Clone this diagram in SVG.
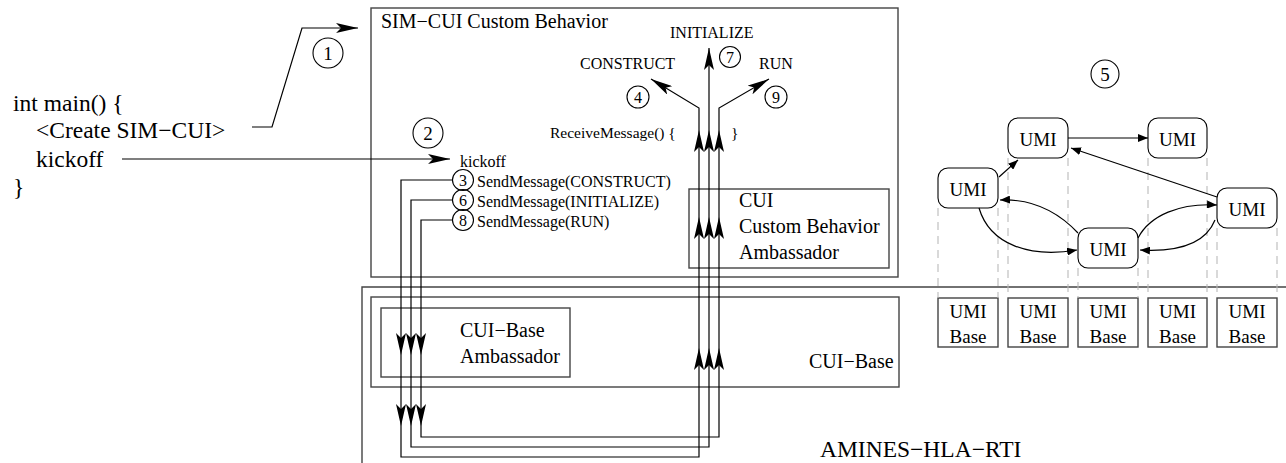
<svg xmlns="http://www.w3.org/2000/svg" width="1286" height="463" viewBox="0 0 1286 463">
<defs>
<style>
text{font-family:"Liberation Serif","Times New Roman",serif;fill:#000}
.box{fill:none;stroke:#444;stroke-width:1.4}
.ln{fill:none;stroke:#000;stroke-width:1.2}
.cir{fill:none;stroke:#000;stroke-width:1.1}
.umi{fill:#fff;stroke:#000;stroke-width:1.1}
.dash{fill:none;stroke:#bbb;stroke-width:1.1;stroke-dasharray:8,6}
.t24{font-size:23.5px}
.t20{font-size:20px}
.t16{font-size:16px}
.t19{font-size:19px}
.mid{text-anchor:middle}
</style>
<marker id="ah" viewBox="0 0 22 10" refX="22" refY="5" markerWidth="22" markerHeight="10" markerUnits="userSpaceOnUse" orient="auto">
<path d="M0,0 L22,5 L0,10 L5,5 z" fill="#000"/>
</marker>
<marker id="sh" viewBox="0 0 10 8" refX="10" refY="4" markerWidth="10" markerHeight="8" markerUnits="userSpaceOnUse" orient="auto">
<path d="M0,0 L10,4 L0,8 z" fill="#000"/>
</marker>
</defs>
<rect width="1286" height="463" fill="#fff"/>

<g id="main-code">
<text class="t24" x="13" y="111">int main() {</text>
<text class="t24" x="36" y="138">&lt;Create SIM−CUI&gt;</text>
<text class="t24" x="36" y="167">kickoff</text>
<text class="t24" x="13" y="195">}</text>
</g>

<g id="rti">
<path class="box" d="M362,463 V287 H1286"/>
<text class="t24" x="820" y="457">AMINES−HLA−RTI</text>
</g>

<g id="sim-cui">
<rect class="box" x="371" y="8" width="527" height="269"/>
<text class="t20" x="381" y="28">SIM−CUI Custom Behavior</text>
<text class="t16" x="670" y="38">INITIALIZE</text>
<text class="t16" x="580" y="69">CONSTRUCT</text>
<text class="t16" x="759" y="69">RUN</text>
<text style="font-size:15.5px" x="550" y="138">ReceiveMessage() {</text>
<text style="font-size:15.5px" x="731" y="138">}</text>
<text class="t16" x="460" y="167">kickoff</text>
<text class="t16" x="477" y="187">SendMessage(CONSTRUCT)</text>
<text class="t16" x="477" y="207">SendMessage(INITIALIZE)</text>
<text class="t16" x="477" y="227">SendMessage(RUN)</text>
</g>

<g id="cui-amb">
<rect class="box" x="689" y="189" width="200" height="79"/>
<text class="t20" x="739" y="207">CUI</text>
<text class="t20" x="739" y="233">Custom Behavior</text>
<text class="t20" x="739" y="259">Ambassador</text>
</g>

<g id="cui-base">
<rect class="box" x="371" y="297" width="528" height="90"/>
<text class="t20" x="809" y="368">CUI−Base</text>
</g>

<g id="cui-base-amb">
<rect class="box" x="381" y="308" width="189" height="69"/>
<text class="t20" x="460" y="337">CUI−Base</text>
<text class="t20" x="460" y="363">Ambassador</text>
</g>

<g id="steps">
<circle class="cir" cx="328" cy="53" r="15"/><text class="t19 mid" x="328" y="60">1</text>
<circle class="cir" cx="428" cy="133" r="15"/><text class="t19 mid" x="428" y="140">2</text>
<circle class="cir" cx="463" cy="180" r="10.5"/><text class="t16 mid" x="463" y="186">3</text>
<circle class="cir" cx="638" cy="97" r="11"/><text class="t16 mid" x="638" y="103">4</text>
<circle class="cir" cx="1105" cy="74" r="14"/><text class="t19 mid" x="1105" y="81">5</text>
<circle class="cir" cx="463" cy="200" r="10.5"/><text class="t16 mid" x="463" y="206">6</text>
<circle class="cir" cx="730" cy="57" r="10.5"/><text class="t16 mid" x="730" y="63">7</text>
<circle class="cir" cx="463" cy="220" r="10.5"/><text class="t16 mid" x="463" y="226">8</text>
<circle class="cir" cx="776" cy="97" r="11"/><text class="t16 mid" x="776" y="103">9</text>
</g>

<g id="umi-graph">
<g id="umi-1"><rect class="umi" x="1008" y="118" width="60" height="40" rx="10"/><text class="t19 mid" x="1038" y="146">UMI</text></g>
<g id="umi-2"><rect class="umi" x="1148" y="118" width="59" height="40" rx="10"/><text class="t19 mid" x="1177.5" y="146">UMI</text></g>
<g id="umi-3"><rect class="umi" x="938" y="168" width="60" height="40" rx="10"/><text class="t19 mid" x="968" y="196">UMI</text></g>
<g id="umi-4"><rect class="umi" x="1078" y="228" width="60" height="40" rx="10"/><text class="t19 mid" x="1108" y="256">UMI</text></g>
<g id="umi-5"><rect class="umi" x="1217" y="188" width="60" height="40" rx="10"/><text class="t19 mid" x="1247" y="216">UMI</text></g>
</g>

<g id="umi-bases">
<g id="umi-base-1"><rect class="box" x="938" y="298" width="60" height="49"/><text class="t19 mid" x="968" y="318">UMI</text><text class="t19 mid" x="968" y="343">Base</text></g>
<g id="umi-base-2"><rect class="box" x="1008" y="298" width="60" height="49"/><text class="t19 mid" x="1038" y="318">UMI</text><text class="t19 mid" x="1038" y="343">Base</text></g>
<g id="umi-base-3"><rect class="box" x="1078" y="298" width="60" height="49"/><text class="t19 mid" x="1108" y="318">UMI</text><text class="t19 mid" x="1108" y="343">Base</text></g>
<g id="umi-base-4"><rect class="box" x="1148" y="298" width="59" height="49"/><text class="t19 mid" x="1177.5" y="318">UMI</text><text class="t19 mid" x="1177.5" y="343">Base</text></g>
<g id="umi-base-5"><rect class="box" x="1217" y="298" width="60" height="49"/><text class="t19 mid" x="1247" y="318">UMI</text><text class="t19 mid" x="1247" y="343">Base</text></g>
</g>

<g id="connectors">
<path class="dash" d="M938,208 V298 M998,208 V298 M1008,158 V298 M1068,158 V298 M1078,268 V298 M1138,268 V298 M1148,158 V298 M1207,158 V298 M1217,228 V298 M1277,228 V298"/>
<path class="ln" d="M252,127 H272 L302,28 H358" marker-end="url(#ah)"/>
<path class="ln" d="M122,159 H450" marker-end="url(#ah)"/>
<!-- CONSTRUCT path -->
<path class="ln" d="M452,180 H401 V355" marker-end="url(#ah)"/>
<path class="ln" d="M401,355 V426" marker-end="url(#ah)"/>
<path class="ln" d="M401,426 V457 H699 V348" marker-end="url(#ah)"/>
<path class="ln" d="M699,348 V217" marker-end="url(#ah)"/>
<path class="ln" d="M699,217 V130" marker-end="url(#ah)"/>
<path class="ln" d="M699,130 V108 L651,79" marker-end="url(#ah)"/>
<!-- INITIALIZE path -->
<path class="ln" d="M452,200 H411 V355" marker-end="url(#ah)"/>
<path class="ln" d="M411,355 V426" marker-end="url(#ah)"/>
<path class="ln" d="M411,426 V447 H709 V348" marker-end="url(#ah)"/>
<path class="ln" d="M709,348 V217" marker-end="url(#ah)"/>
<path class="ln" d="M709,217 V130" marker-end="url(#ah)"/>
<path class="ln" d="M709,130 V48" marker-end="url(#ah)"/>
<!-- RUN path -->
<path class="ln" d="M452,220 H421 V355" marker-end="url(#ah)"/>
<path class="ln" d="M421,355 V426" marker-end="url(#ah)"/>
<path class="ln" d="M421,426 V437 H719 V348" marker-end="url(#ah)"/>
<path class="ln" d="M719,348 V217" marker-end="url(#ah)"/>
<path class="ln" d="M719,217 V130" marker-end="url(#ah)"/>
<path class="ln" d="M719,130 V108 L769,79" marker-end="url(#ah)"/>
<!-- UMI graph edges -->
<path class="ln" d="M1068,138 H1148" marker-end="url(#sh)"/>
<path class="ln" d="M999,177 L1018,160" marker-end="url(#sh)"/>
<path class="ln" d="M1217,197 L1071,148" marker-end="url(#sh)"/>
<path class="ln" d="M1078,233 Q1045,198 1000,200" marker-end="url(#sh)"/>
<path class="ln" d="M979,208 C990,245 1030,258 1077,250" marker-end="url(#sh)"/>
<path class="ln" d="M1138,238 C1150,215 1180,203 1217,205" marker-end="url(#sh)"/>
<path class="ln" d="M1215,220 C1205,245 1175,252 1140,250" marker-end="url(#sh)"/>
</g>
</svg>
